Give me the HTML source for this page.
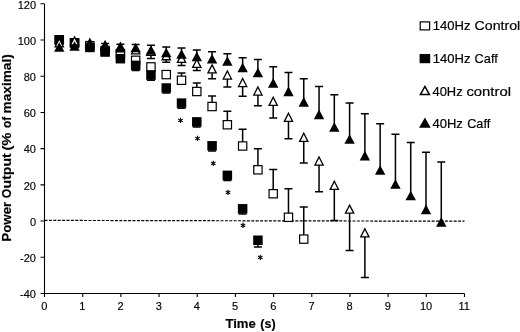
<!DOCTYPE html>
<html lang="en"><head><meta charset="utf-8"><title>Power Output vs Time</title>
<style>
html,body{margin:0;padding:0;background:#fff;}
body{width:520px;height:332px;overflow:hidden;position:relative;}
</style></head><body>
<svg width="520" height="332" viewBox="0 0 520 332" style="position:absolute;left:0;top:0;display:block">
<rect width="520" height="332" fill="#fff"/>
<path d="M44.5 220.4L464.5 221.2" stroke="#000" stroke-width="1.2" stroke-dasharray="3 1.4" fill="none"/>
<path d="M44.5 3.8V293.5H464.5M44.50 293.5V296.9M82.68 293.5V296.9M120.86 293.5V296.9M159.04 293.5V296.9M197.22 293.5V296.9M235.40 293.5V296.9M273.58 293.5V296.9M311.76 293.5V296.9M349.94 293.5V296.9M388.12 293.5V296.9M426.30 293.5V296.9M464.48 293.5V296.9M40.5 3.80H44.5M40.5 40.01H44.5M40.5 76.22H44.5M40.5 112.44H44.5M40.5 148.65H44.5M40.5 184.86H44.5M40.5 221.07H44.5M40.5 257.29H44.5M40.5 293.50H44.5" stroke="#000" stroke-width="1.1" fill="none"/>
<g font-family="'Liberation Sans', Arial, sans-serif" font-size="11" fill="#000" stroke="#000" stroke-width="0.15">
<text x="44.20" y="310.3" text-anchor="middle">0</text>
<text x="82.38" y="310.3" text-anchor="middle">1</text>
<text x="120.56" y="310.3" text-anchor="middle">2</text>
<text x="158.74" y="310.3" text-anchor="middle">3</text>
<text x="196.92" y="310.3" text-anchor="middle">4</text>
<text x="235.10" y="310.3" text-anchor="middle">5</text>
<text x="273.28" y="310.3" text-anchor="middle">6</text>
<text x="311.46" y="310.3" text-anchor="middle">7</text>
<text x="349.64" y="310.3" text-anchor="middle">8</text>
<text x="387.82" y="310.3" text-anchor="middle">9</text>
<text x="426.00" y="310.3" text-anchor="middle">10</text>
<text x="464.18" y="310.3" text-anchor="middle">11</text>
<text x="36.0" y="8.60" text-anchor="end">120</text>
<text x="36.0" y="44.81" text-anchor="end">100</text>
<text x="36.0" y="81.02" text-anchor="end">80</text>
<text x="36.0" y="117.24" text-anchor="end">60</text>
<text x="36.0" y="153.45" text-anchor="end">40</text>
<text x="36.0" y="189.66" text-anchor="end">20</text>
<text x="36.0" y="225.88" text-anchor="end">0</text>
<text x="36.0" y="262.09" text-anchor="end">-20</text>
<text x="36.0" y="298.30" text-anchor="end">-40</text>
</g>
<g font-family="'Liberation Sans', Arial, sans-serif" fill="#000" stroke="#000" stroke-width="0.15">
<text x="225.40" y="328.1" font-size="13.0" font-weight="bold" textLength="30.41" lengthAdjust="spacingAndGlyphs">Time</text>
<text x="260.22" y="328.1" font-size="13.0" font-weight="bold" textLength="15.34" lengthAdjust="spacingAndGlyphs">(s)</text>
<text transform="translate(11.3 241.70) rotate(-90)" font-size="13.3" font-weight="bold" textLength="39.91" lengthAdjust="spacingAndGlyphs">Power</text>
<text transform="translate(11.3 198.16) rotate(-90)" font-size="13.3" font-weight="bold" textLength="9.57" lengthAdjust="spacingAndGlyphs">O</text>
<text transform="translate(11.3 188.44) rotate(-90)" font-size="13.3" font-weight="bold" textLength="35.08" lengthAdjust="spacingAndGlyphs">utput</text>
<text transform="translate(11.3 150.58) rotate(-90)" font-size="13.3" font-weight="bold" textLength="18.07" lengthAdjust="spacingAndGlyphs">(%</text>
<text transform="translate(11.3 128.05) rotate(-90)" font-size="13.3" font-weight="bold" textLength="11.31" lengthAdjust="spacingAndGlyphs">of</text>
<text transform="translate(11.3 113.42) rotate(-90)" font-size="13.3" font-weight="bold" textLength="59.20" lengthAdjust="spacingAndGlyphs">maximal)</text>
</g>








<path d="M181.52 80.25V73.00M177.52 73.00H185.52" stroke="#000" stroke-width="1.5" fill="none"/>
<path d="M196.80 91.50V83.00M192.80 83.00H200.80" stroke="#000" stroke-width="1.5" fill="none"/>
<path d="M212.08 106.50V96.00M208.08 96.00H216.08" stroke="#000" stroke-width="1.5" fill="none"/>
<path d="M227.36 124.75V111.25M223.36 111.25H231.36" stroke="#000" stroke-width="1.5" fill="none"/>
<path d="M242.64 146.00V129.25M238.64 129.25H246.64" stroke="#000" stroke-width="1.5" fill="none"/>
<path d="M257.92 169.80V148.75M253.92 148.75H261.92" stroke="#000" stroke-width="1.5" fill="none"/>
<path d="M273.20 193.75V169.50M269.20 169.50H277.20" stroke="#000" stroke-width="1.5" fill="none"/>
<path d="M288.48 217.30V188.75M284.48 188.75H292.48" stroke="#000" stroke-width="1.5" fill="none"/>
<path d="M303.76 239.10V207.00M299.76 207.00H307.76" stroke="#000" stroke-width="1.5" fill="none"/>
<rect x="55.13" y="35.75" width="8.3" height="8.3" fill="#fff" stroke="#000" stroke-width="1.2"/>
<rect x="70.41" y="38.75" width="8.3" height="8.3" fill="#fff" stroke="#000" stroke-width="1.2"/>
<rect x="85.69" y="41.50" width="8.3" height="8.3" fill="#fff" stroke="#000" stroke-width="1.2"/>
<rect x="100.97" y="46.40" width="8.3" height="8.3" fill="#fff" stroke="#000" stroke-width="1.2"/>
<rect x="116.25" y="49.45" width="8.3" height="8.3" fill="#fff" stroke="#000" stroke-width="1.2"/>
<rect x="131.53" y="56.15" width="8.3" height="8.3" fill="#fff" stroke="#000" stroke-width="1.2"/>
<rect x="146.81" y="62.75" width="8.3" height="8.3" fill="#fff" stroke="#000" stroke-width="1.2"/>
<rect x="162.09" y="70.45" width="8.3" height="8.3" fill="#fff" stroke="#000" stroke-width="1.2"/>
<rect x="177.37" y="76.10" width="8.3" height="8.3" fill="#fff" stroke="#000" stroke-width="1.2"/>
<rect x="192.65" y="87.35" width="8.3" height="8.3" fill="#fff" stroke="#000" stroke-width="1.2"/>
<rect x="207.93" y="102.35" width="8.3" height="8.3" fill="#fff" stroke="#000" stroke-width="1.2"/>
<rect x="223.21" y="120.60" width="8.3" height="8.3" fill="#fff" stroke="#000" stroke-width="1.2"/>
<rect x="238.49" y="141.85" width="8.3" height="8.3" fill="#fff" stroke="#000" stroke-width="1.2"/>
<rect x="253.77" y="165.65" width="8.3" height="8.3" fill="#fff" stroke="#000" stroke-width="1.2"/>
<rect x="269.05" y="189.60" width="8.3" height="8.3" fill="#fff" stroke="#000" stroke-width="1.2"/>
<rect x="284.33" y="213.15" width="8.3" height="8.3" fill="#fff" stroke="#000" stroke-width="1.2"/>
<rect x="299.61" y="234.95" width="8.3" height="8.3" fill="#fff" stroke="#000" stroke-width="1.2"/>





<path d="M135.68 65.40V70.50M131.68 70.50H139.68" stroke="#000" stroke-width="1.5" fill="none"/>
<path d="M150.96 75.10V80.20M146.96 80.20H154.96" stroke="#000" stroke-width="1.5" fill="none"/>
<path d="M166.24 88.00V93.10M162.24 93.10H170.24" stroke="#000" stroke-width="1.5" fill="none"/>
<path d="M181.52 103.10V108.20M177.52 108.20H185.52" stroke="#000" stroke-width="1.5" fill="none"/>
<path d="M196.80 121.90V127.10M192.80 127.10H200.80" stroke="#000" stroke-width="1.5" fill="none"/>
<path d="M212.08 145.80V151.00M208.08 151.00H216.08" stroke="#000" stroke-width="1.5" fill="none"/>
<path d="M227.36 175.35V180.50M223.36 180.50H231.36" stroke="#000" stroke-width="1.5" fill="none"/>
<path d="M242.64 208.80V213.90M238.64 213.90H246.64" stroke="#000" stroke-width="1.5" fill="none"/>
<path d="M257.92 240.25V246.90M253.92 246.90H261.92" stroke="#000" stroke-width="1.5" fill="none"/>
<rect x="54.53" y="35.15" width="9.5" height="9.5" fill="#000"/>
<rect x="69.81" y="38.15" width="9.5" height="9.5" fill="#000"/>
<rect x="85.09" y="42.70" width="9.5" height="9.5" fill="#000"/>
<rect x="100.37" y="47.30" width="9.5" height="9.5" fill="#000"/>
<rect x="115.65" y="53.95" width="9.5" height="9.5" fill="#000"/>
<rect x="130.93" y="60.65" width="9.5" height="9.5" fill="#000"/>
<rect x="146.21" y="70.35" width="9.5" height="9.5" fill="#000"/>
<rect x="161.49" y="83.25" width="9.5" height="9.5" fill="#000"/>
<rect x="176.77" y="98.35" width="9.5" height="9.5" fill="#000"/>
<rect x="192.05" y="117.15" width="9.5" height="9.5" fill="#000"/>
<rect x="207.33" y="141.05" width="9.5" height="9.5" fill="#000"/>
<rect x="222.61" y="170.60" width="9.5" height="9.5" fill="#000"/>
<rect x="237.89" y="204.05" width="9.5" height="9.5" fill="#000"/>
<rect x="253.17" y="235.50" width="9.5" height="9.5" fill="#000"/>






<path d="M150.96 51.00V58.50M146.96 58.50H154.96" stroke="#000" stroke-width="1.5" fill="none"/>
<path d="M166.24 55.30V62.20M162.24 62.20H170.24" stroke="#000" stroke-width="1.5" fill="none"/>
<path d="M181.52 58.00V65.50M177.52 65.50H185.52" stroke="#000" stroke-width="1.5" fill="none"/>
<path d="M196.80 63.00V70.50M192.80 70.50H200.80" stroke="#000" stroke-width="1.5" fill="none"/>
<path d="M212.08 68.50V78.75M208.08 78.75H216.08" stroke="#000" stroke-width="1.5" fill="none"/>
<path d="M227.36 74.60V87.00M223.36 87.00H231.36" stroke="#000" stroke-width="1.5" fill="none"/>
<path d="M242.64 82.10V96.25M238.64 96.25H246.64" stroke="#000" stroke-width="1.5" fill="none"/>
<path d="M257.92 90.60V105.75M253.92 105.75H261.92" stroke="#000" stroke-width="1.5" fill="none"/>
<path d="M273.20 100.90V118.00M269.20 118.00H277.20" stroke="#000" stroke-width="1.5" fill="none"/>
<path d="M288.48 116.90V138.75M284.48 138.75H292.48" stroke="#000" stroke-width="1.5" fill="none"/>
<path d="M303.76 136.90V163.10M299.76 163.10H307.76" stroke="#000" stroke-width="1.5" fill="none"/>
<path d="M319.04 160.60V191.75M315.04 191.75H323.04" stroke="#000" stroke-width="1.5" fill="none"/>
<path d="M334.32 184.90V220.50M330.32 220.50H338.32" stroke="#000" stroke-width="1.5" fill="none"/>
<path d="M349.60 208.75V250.50M345.60 250.50H353.60" stroke="#000" stroke-width="1.5" fill="none"/>
<path d="M364.88 232.40V277.50M360.88 277.50H368.88" stroke="#000" stroke-width="1.5" fill="none"/>
<path d="M59.28 38.73L63.42 46.85H55.14Z" fill="#fff" stroke="#000" stroke-width="1.3" stroke-linejoin="miter" stroke-miterlimit="10"/>
<path d="M74.56 36.83L78.70 44.95H70.42Z" fill="#fff" stroke="#000" stroke-width="1.3" stroke-linejoin="miter" stroke-miterlimit="10"/>
<path d="M89.84 39.53L93.98 47.65H85.70Z" fill="#fff" stroke="#000" stroke-width="1.3" stroke-linejoin="miter" stroke-miterlimit="10"/>
<path d="M105.12 41.63L109.26 49.75H100.98Z" fill="#fff" stroke="#000" stroke-width="1.3" stroke-linejoin="miter" stroke-miterlimit="10"/>
<path d="M120.40 43.63L124.54 51.75H116.26Z" fill="#fff" stroke="#000" stroke-width="1.3" stroke-linejoin="miter" stroke-miterlimit="10"/>
<path d="M135.68 45.73L139.82 53.85H131.54Z" fill="#fff" stroke="#000" stroke-width="1.3" stroke-linejoin="miter" stroke-miterlimit="10"/>
<path d="M150.96 47.33L155.10 55.45H146.82Z" fill="#fff" stroke="#000" stroke-width="1.3" stroke-linejoin="miter" stroke-miterlimit="10"/>
<path d="M166.24 51.63L170.38 59.75H162.10Z" fill="#fff" stroke="#000" stroke-width="1.3" stroke-linejoin="miter" stroke-miterlimit="10"/>
<path d="M181.52 54.33L185.66 62.45H177.38Z" fill="#fff" stroke="#000" stroke-width="1.3" stroke-linejoin="miter" stroke-miterlimit="10"/>
<path d="M196.80 59.33L200.94 67.45H192.66Z" fill="#fff" stroke="#000" stroke-width="1.3" stroke-linejoin="miter" stroke-miterlimit="10"/>
<path d="M212.08 64.83L216.22 72.95H207.94Z" fill="#fff" stroke="#000" stroke-width="1.3" stroke-linejoin="miter" stroke-miterlimit="10"/>
<path d="M227.36 70.93L231.50 79.05H223.22Z" fill="#fff" stroke="#000" stroke-width="1.3" stroke-linejoin="miter" stroke-miterlimit="10"/>
<path d="M242.64 78.43L246.78 86.55H238.50Z" fill="#fff" stroke="#000" stroke-width="1.3" stroke-linejoin="miter" stroke-miterlimit="10"/>
<path d="M257.92 86.93L262.06 95.05H253.78Z" fill="#fff" stroke="#000" stroke-width="1.3" stroke-linejoin="miter" stroke-miterlimit="10"/>
<path d="M273.20 97.23L277.34 105.35H269.06Z" fill="#fff" stroke="#000" stroke-width="1.3" stroke-linejoin="miter" stroke-miterlimit="10"/>
<path d="M288.48 113.23L292.62 121.35H284.34Z" fill="#fff" stroke="#000" stroke-width="1.3" stroke-linejoin="miter" stroke-miterlimit="10"/>
<path d="M303.76 133.23L307.90 141.35H299.62Z" fill="#fff" stroke="#000" stroke-width="1.3" stroke-linejoin="miter" stroke-miterlimit="10"/>
<path d="M319.04 156.93L323.18 165.05H314.90Z" fill="#fff" stroke="#000" stroke-width="1.3" stroke-linejoin="miter" stroke-miterlimit="10"/>
<path d="M334.32 181.23L338.46 189.35H330.18Z" fill="#fff" stroke="#000" stroke-width="1.3" stroke-linejoin="miter" stroke-miterlimit="10"/>
<path d="M349.60 205.08L353.74 213.20H345.46Z" fill="#fff" stroke="#000" stroke-width="1.3" stroke-linejoin="miter" stroke-miterlimit="10"/>
<path d="M364.88 228.73L369.02 236.85H360.74Z" fill="#fff" stroke="#000" stroke-width="1.3" stroke-linejoin="miter" stroke-miterlimit="10"/>



<path d="M105.12 44.90V43.50M101.12 43.50H109.12" stroke="#000" stroke-width="1.5" fill="none"/>
<path d="M120.40 46.40V44.20M116.40 44.20H124.40" stroke="#000" stroke-width="1.5" fill="none"/>
<path d="M135.68 47.60V44.40M131.68 44.40H139.68" stroke="#000" stroke-width="1.5" fill="none"/>
<path d="M150.96 50.10V45.30M146.96 45.30H154.96" stroke="#000" stroke-width="1.5" fill="none"/>
<path d="M166.24 52.50V47.00M162.24 47.00H170.24" stroke="#000" stroke-width="1.5" fill="none"/>
<path d="M181.52 54.10V48.00M177.52 48.00H185.52" stroke="#000" stroke-width="1.5" fill="none"/>
<path d="M196.80 56.60V50.00M192.80 50.00H200.80" stroke="#000" stroke-width="1.5" fill="none"/>
<path d="M212.08 58.75V51.75M208.08 51.75H216.08" stroke="#000" stroke-width="1.5" fill="none"/>
<path d="M227.36 61.00V53.75M223.36 53.75H231.36" stroke="#000" stroke-width="1.5" fill="none"/>
<path d="M242.64 67.60V57.70M238.64 57.70H246.64" stroke="#000" stroke-width="1.5" fill="none"/>
<path d="M257.92 72.50V59.40M253.92 59.40H261.92" stroke="#000" stroke-width="1.5" fill="none"/>
<path d="M273.20 82.90V66.75M269.20 66.75H277.20" stroke="#000" stroke-width="1.5" fill="none"/>
<path d="M288.48 91.40V72.50M284.48 72.50H292.48" stroke="#000" stroke-width="1.5" fill="none"/>
<path d="M303.76 101.90V78.75M299.76 78.75H307.76" stroke="#000" stroke-width="1.5" fill="none"/>
<path d="M319.04 114.40V86.50M315.04 86.50H323.04" stroke="#000" stroke-width="1.5" fill="none"/>
<path d="M334.32 127.10V94.80M330.32 94.80H338.32" stroke="#000" stroke-width="1.5" fill="none"/>
<path d="M349.60 139.00V103.00M345.60 103.00H353.60" stroke="#000" stroke-width="1.5" fill="none"/>
<path d="M364.88 155.70V113.75M360.88 113.75H368.88" stroke="#000" stroke-width="1.5" fill="none"/>
<path d="M380.16 170.00V123.75M376.16 123.75H384.16" stroke="#000" stroke-width="1.5" fill="none"/>
<path d="M395.44 184.10V134.25M391.44 134.25H399.44" stroke="#000" stroke-width="1.5" fill="none"/>
<path d="M410.72 195.60V142.50M406.72 142.50H414.72" stroke="#000" stroke-width="1.5" fill="none"/>
<path d="M426.00 209.40V152.30M422.00 152.30H430.00" stroke="#000" stroke-width="1.5" fill="none"/>
<path d="M441.28 221.90V162.00M437.28 162.00H445.28" stroke="#000" stroke-width="1.5" fill="none"/>
<path d="M59.28 42.25L64.48 51.85H54.08Z" fill="#000"/>
<path d="M74.56 41.15L79.76 50.75H69.36Z" fill="#000"/>
<path d="M89.84 37.75L95.04 47.35H84.64Z" fill="#000"/>
<path d="M105.12 40.05L110.32 49.65H99.92Z" fill="#000"/>
<path d="M120.40 41.55L125.60 51.15H115.20Z" fill="#000"/>
<path d="M135.68 42.75L140.88 52.35H130.48Z" fill="#000"/>
<path d="M150.96 45.25L156.16 54.85H145.76Z" fill="#000"/>
<path d="M166.24 47.65L171.44 57.25H161.04Z" fill="#000"/>
<path d="M181.52 49.25L186.72 58.85H176.32Z" fill="#000"/>
<path d="M196.80 51.75L202.00 61.35H191.60Z" fill="#000"/>
<path d="M212.08 53.90L217.28 63.50H206.88Z" fill="#000"/>
<path d="M227.36 56.15L232.56 65.75H222.16Z" fill="#000"/>
<path d="M242.64 62.75L247.84 72.35H237.44Z" fill="#000"/>
<path d="M257.92 67.65L263.12 77.25H252.72Z" fill="#000"/>
<path d="M273.20 78.05L278.40 87.65H268.00Z" fill="#000"/>
<path d="M288.48 86.55L293.68 96.15H283.28Z" fill="#000"/>
<path d="M303.76 97.05L308.96 106.65H298.56Z" fill="#000"/>
<path d="M319.04 109.55L324.24 119.15H313.84Z" fill="#000"/>
<path d="M334.32 122.25L339.52 131.85H329.12Z" fill="#000"/>
<path d="M349.60 134.15L354.80 143.75H344.40Z" fill="#000"/>
<path d="M364.88 150.85L370.08 160.45H359.68Z" fill="#000"/>
<path d="M380.16 165.15L385.36 174.75H374.96Z" fill="#000"/>
<path d="M395.44 179.25L400.64 188.85H390.24Z" fill="#000"/>
<path d="M410.72 190.75L415.92 200.35H405.52Z" fill="#000"/>
<path d="M426.00 204.55L431.20 214.15H420.80Z" fill="#000"/>
<path d="M441.28 217.05L446.48 226.65H436.08Z" fill="#000"/>
<g font-family="'DejaVu Sans', 'Liberation Sans', sans-serif" font-size="10" fill="#000" stroke="#000" stroke-width="0.45" text-anchor="middle">
<text x="180.6" y="125.95">*</text>
<text x="197.6" y="144.15">*</text>
<text x="213.3" y="168.55">*</text>
<text x="228.05" y="197.95">*</text>
<text x="243.1" y="230.55">*</text>
<text x="260.3" y="263.25">*</text>
</g>
<g font-family="'Liberation Sans', Arial, sans-serif" fill="#000" stroke="#000" stroke-width="0.2">
<rect x="420.2" y="21.90" width="9.4" height="8.0" fill="#fff" stroke="#000" stroke-width="1.2"/>
<text x="432.80" y="30.4" font-size="13.0" textLength="37.68" lengthAdjust="spacingAndGlyphs">140Hz</text>
<text x="474.54" y="30.4" font-size="13.0" textLength="45.65" lengthAdjust="spacingAndGlyphs">Control</text>
<rect x="419.6" y="54.00" width="10.6" height="9.2" fill="#000" stroke="none"/>
<text x="432.80" y="63.1" font-size="13.0" textLength="37.68" lengthAdjust="spacingAndGlyphs">140Hz</text>
<text x="474.61" y="63.1" font-size="13.0" textLength="23.20" lengthAdjust="spacingAndGlyphs">Caff</text>
<path d="M424.90 86.49L429.42 94.60H420.38Z" fill="#fff" stroke="#000" stroke-width="1.5" stroke-linejoin="miter" stroke-miterlimit="10"/>
<text x="432.50" y="95.75" font-size="13.0" textLength="30.14" lengthAdjust="spacingAndGlyphs">40Hz</text>
<text x="466.42" y="95.75" font-size="13.0" textLength="44.54" lengthAdjust="spacingAndGlyphs">control</text>
<path d="M424.90 117.40L430.70 127.80H419.10Z" fill="#000" stroke="none"/>
<text x="432.50" y="128.2" font-size="13.0" textLength="30.35" lengthAdjust="spacingAndGlyphs">40Hz</text>
<text x="467.22" y="128.2" font-size="13.0" textLength="22.99" lengthAdjust="spacingAndGlyphs">Caff</text>
</g>
</svg>
</body></html>
